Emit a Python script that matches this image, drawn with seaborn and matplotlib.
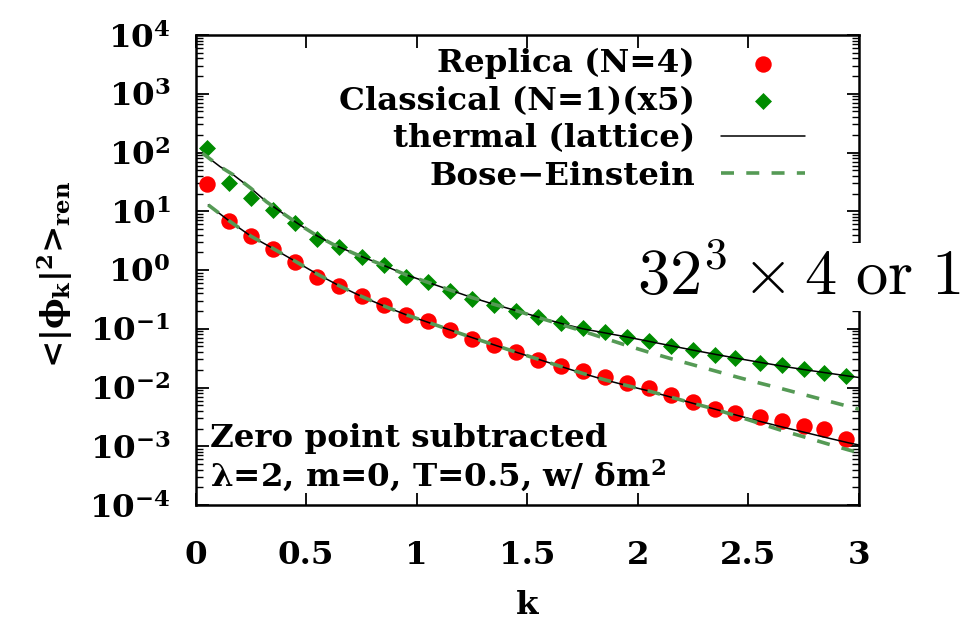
import numpy as np
import pandas as pd
import matplotlib
matplotlib.use("Agg")
import matplotlib.pyplot as plt
import seaborn as sns
from matplotlib.ticker import LogLocator, FuncFormatter, NullFormatter, FixedLocator

# ---------------- data ----------------
k_points = [0.05, 0.15, 0.25, 0.35, 0.45, 0.55, 0.65, 0.75, 0.85, 0.95,
            1.05, 1.15, 1.25, 1.35, 1.45, 1.55, 1.65, 1.75, 1.85, 1.95,
            2.05, 2.15, 2.25, 2.35, 2.44, 2.55, 2.65, 2.75, 2.84, 2.94]
replica = [29, 6.9, 3.73, 2.29, 1.37, 0.75, 0.535, 0.363, 0.255, 0.171,
           0.138, 0.0966, 0.0676, 0.0529, 0.0398, 0.0294, 0.0229, 0.0193, 0.0153, 0.0119,
           0.0100, 0.00759, 0.00556, 0.00427, 0.00372, 0.00309, 0.00266, 0.00224, 0.00200, 0.00135]
classical_x5 = [120, 30, 16.6, 10.5, 6.4, 3.33, 2.5, 1.68, 1.2, 0.76,
                0.62, 0.44, 0.32, 0.258, 0.203, 0.157, 0.126, 0.102, 0.089, 0.0733,
                0.0627, 0.0513, 0.0427, 0.0363, 0.0314, 0.0264, 0.0242, 0.0204, 0.0179, 0.0157]

k_curve_hi = [0.03, 0.11, 0.17, 0.25, 0.32, 0.40, 0.47, 0.55, 0.62, 0.73, 0.85, 0.95,
              1.05, 1.15, 1.25, 1.35, 1.45, 1.55, 1.65, 1.75, 1.85, 1.95,
              2.05, 2.15, 2.25, 2.35, 2.45, 2.55, 2.65, 2.75, 2.85, 2.95, 3.0]
thermal_hi = [97.7, 57.5, 41.7, 24.5, 14.5, 8.91, 5.89, 3.80, 2.75, 1.82, 1.20, 0.832,
              0.617, 0.457, 0.339, 0.260, 0.203, 0.158, 0.124, 0.100, 0.0851, 0.0724,
              0.0610, 0.0513, 0.0432, 0.0367, 0.0313, 0.0269, 0.0232, 0.0202, 0.0178, 0.0157, 0.0148]
bose_hi = [97.7, 57.5, 41.7, 24.5, 14.5, 8.91, 5.89, 3.80, 2.75, 1.82, 1.20, 0.832,
           0.617, 0.457, 0.339, 0.260, 0.203, 0.155, 0.119, 0.0912, 0.0687, 0.0519,
           0.0398, 0.0309, 0.0243, 0.0191, 0.0150, 0.0119, 0.00955, 0.00759, 0.00603, 0.00479, 0.00427]

k_curve_lo = [0.057, 0.15, 0.25, 0.35, 0.45, 0.55, 0.65, 0.75, 0.85, 0.95,
              1.05, 1.15, 1.25, 1.35, 1.45, 1.55, 1.65, 1.75, 1.85, 1.95,
              2.05, 2.15, 2.25, 2.35, 2.45, 2.55, 2.65, 2.75, 2.85, 2.95, 3.0]
thermal_lo = [12.8, 6.92, 3.76, 2.32, 1.41, 0.851, 0.537, 0.355, 0.245, 0.174,
              0.129, 0.0955, 0.0708, 0.0531, 0.0398, 0.0302, 0.0229, 0.0174, 0.0135, 0.0108,
              0.00871, 0.00684, 0.00537, 0.00427, 0.00335, 0.00266, 0.00214, 0.00174, 0.00141, 0.00115, 0.00105]
bose_lo = [12.8, 6.92, 3.76, 2.32, 1.41, 0.851, 0.537, 0.355, 0.245, 0.174,
           0.129, 0.0955, 0.0708, 0.0531, 0.0398, 0.0302, 0.0229, 0.0174, 0.0135, 0.0108,
           0.00871, 0.00684, 0.00537, 0.00427, 0.00324, 0.00245, 0.00186, 0.00145, 0.00112, 0.000871, 0.000776]

x_ticks = [0, 0.5, 1, 1.5, 2, 2.5, 3]
x_tick_labels = ["0", "0.5", "1", "1.5", "2", "2.5", "3"]

# ---------------- style ----------------
sns.set_style("ticks")
plt.rcParams["font.family"] = ["DejaVu Serif"]
plt.rcParams["font.weight"] = "bold"
plt.rcParams["mathtext.fontset"] = "dejavuserif"
for key in ["text.color", "axes.labelcolor", "xtick.color", "ytick.color", "axes.edgecolor"]:
    plt.rcParams[key] = "black"

FS = 23.4
RED = "#ff0000"
GREEN = "#008c00"
BE_GREEN = "#559a55"

W, H = 979, 628
fig = plt.figure(figsize=(W / 100, H / 100), dpi=100)
L, R, T, B = 195.7, 859, 35, 505
ax = fig.add_axes([L / W, 1 - B / H, (R - L) / W, (B - T) / H])

df_pts = pd.DataFrame({"k": k_points, "rep": replica, "cls": classical_x5})
df_hi = pd.DataFrame({"k": k_curve_hi, "th": thermal_hi, "be": bose_hi})
df_lo = pd.DataFrame({"k": k_curve_lo, "th": thermal_lo, "be": bose_lo})

sns.scatterplot(data=df_pts, x="k", y="rep", ax=ax, color=RED, marker="o", s=140,
                linewidth=0, label="Replica (N=4)", zorder=3)
sns.scatterplot(data=df_pts, x="k", y="cls", ax=ax, color=GREEN, marker="D", s=75,
                linewidth=0, label="Classical (N=1)(x5)", zorder=3)
sns.lineplot(data=df_hi, x="k", y="th", ax=ax, color="black", linewidth=1.1,
             estimator=None, sort=False, label="thermal (lattice)", zorder=4)
sns.lineplot(data=df_lo, x="k", y="th", ax=ax, color="black", linewidth=1.1,
             estimator=None, sort=False, zorder=4)
sns.lineplot(data=df_hi, x="k", y="be", ax=ax, color=BE_GREEN, linewidth=2.6,
             linestyle=(0, (3.6, 3.4)), estimator=None, sort=False,
             label="Bose\u2212Einstein", zorder=5)
sns.lineplot(data=df_lo, x="k", y="be", ax=ax, color=BE_GREEN, linewidth=2.6,
             linestyle=(0, (3.6, 3.4)), estimator=None, sort=False, zorder=5)

ax.set_yscale("log")
ax.set_xlim(0, 3)
ax.set_ylim(1e-4, 1e4)

ax.xaxis.set_major_locator(FixedLocator(x_ticks))
ax.set_xticklabels(x_tick_labels)
ax.xaxis.set_minor_locator(FixedLocator([]))
ax.yaxis.set_major_locator(LogLocator(base=10, numticks=20))
ax.yaxis.set_minor_locator(LogLocator(base=10, subs=np.arange(2, 10), numticks=100))
ax.yaxis.set_minor_formatter(NullFormatter())
ax.yaxis.set_major_formatter(FuncFormatter(
    lambda v, p: r"$\mathbf{10^{%d}}$" % int(round(np.log10(v)))))

ax.tick_params(which="both", direction="in", top=True, right=True, colors="black")
ax.tick_params(which="major", length=9, width=1.3)
ax.tick_params(which="minor", length=5, width=1.0)
ax.tick_params(axis="x", which="major", pad=25, labelsize=FS)
ax.tick_params(axis="y", which="major", pad=18, labelsize=FS)
for lab in ax.get_xticklabels():
    lab.set_fontweight("bold")
for sp in ax.spines.values():
    sp.set_linewidth(1.8)
    sp.set_color("black")

ax.set_xlabel("k", fontsize=FS, fontweight="bold", va="center")
ax.xaxis.set_label_coords(0.5, -0.213)
ax.set_ylabel(r"<|ϕ$_{\mathbf{k}}$|$^{\mathbf{2}}$>$_{\mathbf{ren}}$", fontsize=FS,
              fontweight="bold", va="center")
ax.yaxis.set_label_coords(-0.212, 0.49)

handles, labels = ax.get_legend_handles_labels()
leg = ax.legend(handles, labels, loc="upper right",
                bbox_to_anchor=(805 / W, 1 - 48 / H), bbox_transform=fig.transFigure,
                frameon=False, markerfirst=False, prop={"weight": "bold", "size": FS},
                handlelength=2.58, handletextpad=0.8, labelspacing=0.2,
                borderpad=0, borderaxespad=0, scatterpoints=1)
for t in leg.get_texts():
    t.set_color("black")

ax.text((210 - L) / (R - L), (B - 447) / (B - T), "Zero point subtracted",
        transform=ax.transAxes, fontsize=FS, fontweight="bold", ha="left", va="baseline")
ax.text((210 - L) / (R - L), (B - 487) / (B - T),
        r"λ=2, m=0, T=0.5, w/ δm$^{\mathbf{2}}$",
        transform=ax.transAxes, fontsize=FS, fontweight="bold", ha="left", va="baseline")

fig.text(637 / W, 1 - 295 / H, r"$32^3\times 4\ \mathrm{or}\ 1$", fontsize=46.5,
         math_fontfamily="cm", ha="left", va="baseline", zorder=10,
         bbox=dict(facecolor="white", edgecolor="none", pad=1.5))

fig.savefig("out.png", dpi=100)
